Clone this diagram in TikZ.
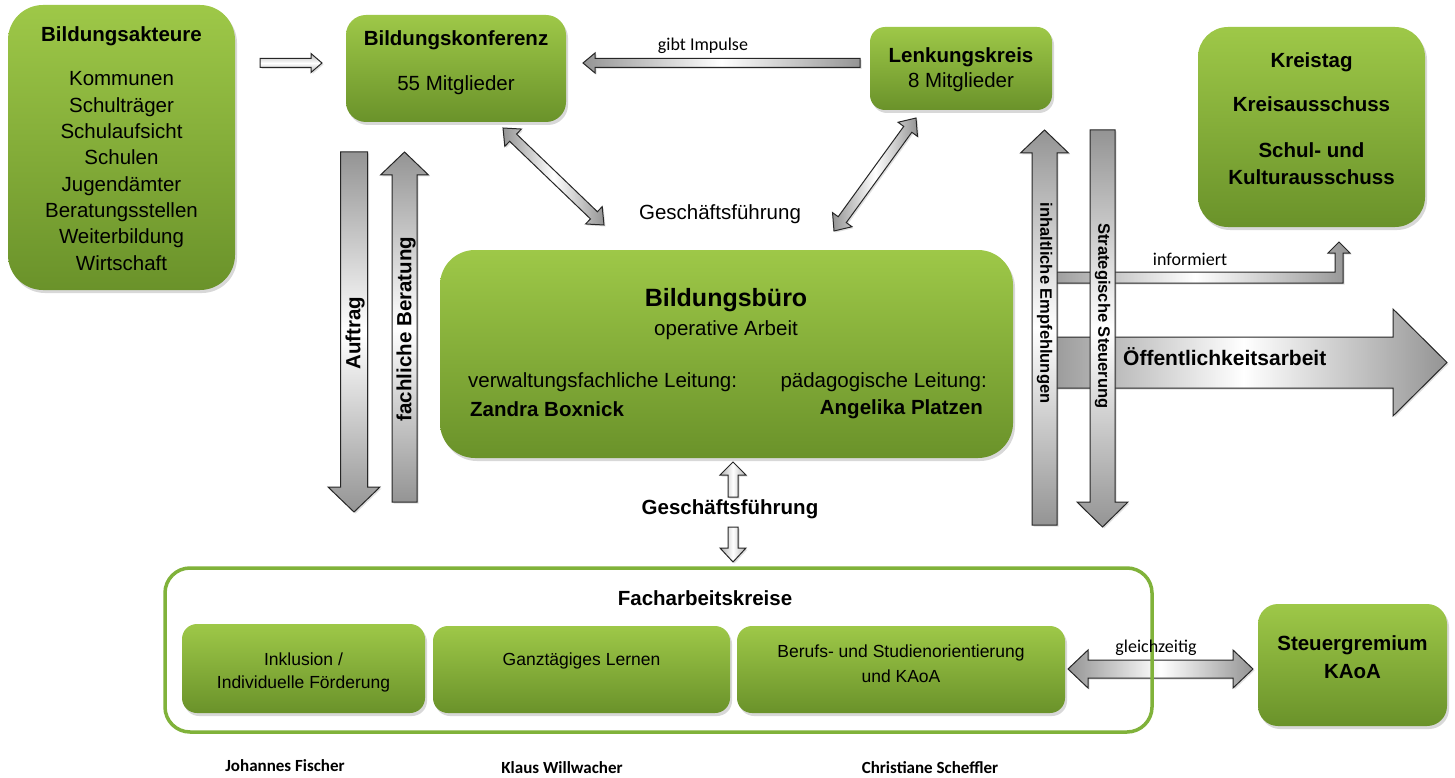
\documentclass[tikz,border=0pt]{standalone}
\usepackage{fontspec}
\setmainfont{Liberation Sans}
\newfontfamily\calfont{Carlito}
\usetikzlibrary{shadows}

\definecolor{grtop}{RGB}{158,200,72}
\definecolor{grbot}{RGB}{106,146,42}
\definecolor{grline}{RGB}{128,178,58}

% single block arrow: [opts]{x1}{y1}{x2}{y2}{half shaft}{half head}{head length}
\newcommand{\blockarr}[8][]{%
  \pgfmathsetmacro\arrlen{veclen(#4-#2,#5-#3)}%
  \pgfmathsetmacro\arrang{atan2(#3-#5,#4-#2)}%
  \begin{scope}[shift={(#2,#3)},rotate=\arrang]
    \draw[blockarrow,#1] (0,-#6) -- (\arrlen-#8,-#6) -- (\arrlen-#8,-#7) -- (\arrlen,0)
      -- (\arrlen-#8,#7) -- (\arrlen-#8,#6) -- (0,#6) -- cycle;
  \end{scope}}
% double block arrow, same arguments
\newcommand{\dblockarr}[8][]{%
  \pgfmathsetmacro\arrlen{veclen(#4-#2,#5-#3)}%
  \pgfmathsetmacro\arrang{atan2(#3-#5,#4-#2)}%
  \begin{scope}[shift={(#2,#3)},rotate=\arrang]
    \draw[blockarrow,#1] (0,0) -- (#8,-#7) -- (#8,-#6) -- (\arrlen-#8,-#6) -- (\arrlen-#8,-#7)
      -- (\arrlen,0) -- (\arrlen-#8,#7) -- (\arrlen-#8,#6) -- (#8,#6) -- (#8,#7) -- cycle;
  \end{scope}}

\tikzset{
  greenbox/.style={rounded corners=#1, top color=grtop, bottom color=grbot, draw=none,
    drop shadow={opacity=.3,shadow xshift=2pt,shadow yshift=-3pt}, inner sep=0pt},
  greenbox/.default=20pt,
  txt/.style={font=\fontsize{20.5}{26.3}\selectfont, align=center, inner sep=0pt},
  ttl/.style={txt, font=\fontsize{20.5}{26.3}\selectfont\bfseries},
  small/.style={txt, font=\fontsize{17.5}{23}\selectfont},
  lbl/.style={inner sep=0pt, font=\calfont\fontsize{18}{20}\selectfont},
  person/.style={inner sep=0pt, font=\calfont\bfseries\fontsize{17}{20}\selectfont},
  blockarrow/.style={draw=black!85, line width=1pt, line join=miter,
    drop shadow={opacity=.25,shadow xshift=1.5pt,shadow yshift=-1.5pt}},
  alongv/.style={top color=black!42, bottom color=black!42, middle color=white},
  alongh/.style={left color=black!42, right color=black!42, middle color=white},
  hollowh/.style={top color=black!30, bottom color=black!30, middle color=white},
  hollowv/.style={left color=black!30, right color=black!30, middle color=white},
}

\begin{document}
\begin{tikzpicture}[x=1pt,y=-1pt]
  \fill[white] (0,0) rectangle (1455,778);
  \useasboundingbox (0,0) rectangle (1455,778);

  % boxes
  \node[greenbox=35pt, minimum width=227pt, minimum height=285pt] (akt) at (121.5,147.5) {};
  \node[ttl] (aktT) at (121.5,36) {Bildungsakteure};
  \node[txt] (aktL) at (121.5,171) {Kommunen\\Schulträger\\Schulaufsicht\\Schulen\\Jugendämter\\Beratungsstellen\\Weiterbildung\\Wirtschaft};

  \node[greenbox, minimum width=220pt, minimum height=107pt] (konf) at (456,68.5) {};
  \node[ttl] (konfT) at (456,40) {Bildungskonferenz};
  \node[txt] (konfM) at (456,85) {55 Mitglieder};

  \node[greenbox=15pt, minimum width=182pt, minimum height=83pt] (lenk) at (961,68.5) {};
  \node[txt, font=\fontsize{20.5}{25}\selectfont] (lenkT) at (961,70) {\textbf{Lenkungskreis}\\8 Mitglieder};

  \node[greenbox=30pt, minimum width=227pt, minimum height=200pt] (kreis) at (1311.5,127) {};
  \node[ttl] (kreisA) at (1311.5,62) {Kreistag};
  \node[ttl] (kreisB) at (1311.5,104) {Kreisausschuss};
  \node[ttl, font=\fontsize{20.5}{27}\selectfont\bfseries] (kreisC) at (1311.5,164) {Schul- und\\Kulturausschuss};

  \node[greenbox=35pt, minimum width=573pt, minimum height=208pt] (buero) at (726.5,354) {};
  \node[ttl, font=\fontsize{25}{30}\selectfont\bfseries] (bueroT) at (726,300) {Bildungsbüro};
  \node[txt] (bueroS) at (726,330) {operative Arbeit};
  \node[txt, anchor=west] (vwl) at (468,382) {verwaltungsfachliche Leitung:};
  \node[ttl, anchor=west] (vwn) at (470,409) {Zandra Boxnick};
  \node[txt, anchor=east] (pdl) at (987,382) {pädagogische Leitung:};
  \node[ttl, anchor=east] (pdn) at (983,409) {Angelika Platzen};

  % Facharbeitskreise
  \fill[white, rounded corners=25pt] (165,568) rectangle (1152,732);
  \node[ttl] (fakT) at (705,598) {Facharbeitskreise};
  \node[greenbox=15pt, minimum width=243pt, minimum height=89pt] (inkl) at (303.5,668.5) {};
  \node[small] (inklT) at (303.5,672) {Inklusion /\\Individuelle Förderung};
  \node[greenbox=15pt, minimum width=297pt, minimum height=87pt] (ganz) at (581.5,669.5) {};
  \node[small] (ganzT) at (581.5,661) {Ganztägiges Lernen};
  \node[greenbox=15pt, minimum width=328pt, minimum height=87pt] (beruf) at (901,669.5) {};
  \node[small, font=\fontsize{17.5}{25}\selectfont] (berufT) at (901,664) {Berufs- und Studienorientierung\\und KAoA};

  \node[greenbox=20pt, minimum width=189pt, minimum height=122pt] (steuer) at (1352.5,665) {};
  \node[ttl, font=\fontsize{20.5}{28}\selectfont\bfseries] (steuerT) at (1352.5,657) {Steuergremium\\KAoA};

  \dblockarr[alongh]{1068}{669}{1253}{669}{9}{19}{20}
  \draw[grline, line width=3.5pt, rounded corners=25pt] (165,568) rectangle (1152,732);
  \node[lbl] (gleich) at (1156,648) {gleichzeitig};

  % arrows top
  \blockarr[hollowh]{260}{63}{322}{63}{4.5}{9.5}{11}
  \blockarr[alongh]{860}{63}{583}{63}{4.5}{10}{12}
  \node[lbl] (impuls) at (703,46) {gibt Impulse};
  \dblockarr[alongh]{503}{128}{604}{225}{5}{12}{14}
  \dblockarr[alongh]{916}{118}{834}{231}{5}{12}{14}
  \node[txt] (gf1) at (720,214) {Geschäftsführung};

  % Auftrag / fachliche Beratung
  \blockarr[alongv]{354}{152}{354}{512}{13.5}{26}{25}
  \blockarr[alongv]{404.5}{502}{404.5}{152}{12.5}{24}{23}
  \node[ttl, rotate=90] (auftrag) at (355,333) {Auftrag};
  \node[ttl, rotate=90] (beratung) at (406,329) {fachliche Beratung};

  % right side
  \draw[blockarrow, alongh] (1040,272) -- (1335,272) -- (1335,253) -- (1328,253) -- (1339,242)
    -- (1350,253) -- (1343,253) -- (1343,283) -- (1040,283) -- cycle;
  \node[lbl] (inform) at (1190,259) {informiert};
  \blockarr[alongh]{1040}{362.5}{1447}{362.5}{25.5}{53.5}{54}
  \node[ttl, anchor=west, font=\fontsize{21}{25}\selectfont\bfseries] (oeff) at (1123,357) {Öffentlichkeitsarbeit};
  \blockarr[alongv]{1044.5}{525}{1044.5}{130}{12.5}{24}{23}
  \blockarr[alongv]{1102.5}{130}{1102.5}{527}{12.5}{25.5}{25}
  \node[ttl, rotate=-90, font=\fontsize{16.5}{20}\selectfont\bfseries] (empf) at (1044.5,303) {inhaltliche Empfehlungen};
  \node[ttl, rotate=-90, font=\fontsize{16.5}{20}\selectfont\bfseries] (steu) at (1102.5,316) {Strategische Steuerung};

  % Geschaeftsfuehrung unten
  \blockarr[hollowv]{733}{497}{733}{462}{5}{13}{13}
  \blockarr[hollowv]{733}{527}{733}{562}{5}{13}{14}
  \node[ttl] (gf2) at (730,509) {Geschäftsführung};

  % names
  \node[person] (fischer) at (285,766) {Johannes Fischer};
  \node[person] (willw) at (562,768) {Klaus Willwacher};
  \node[person] (scheff) at (930,768) {Christiane Scheffler};
\end{tikzpicture}
\end{document}
